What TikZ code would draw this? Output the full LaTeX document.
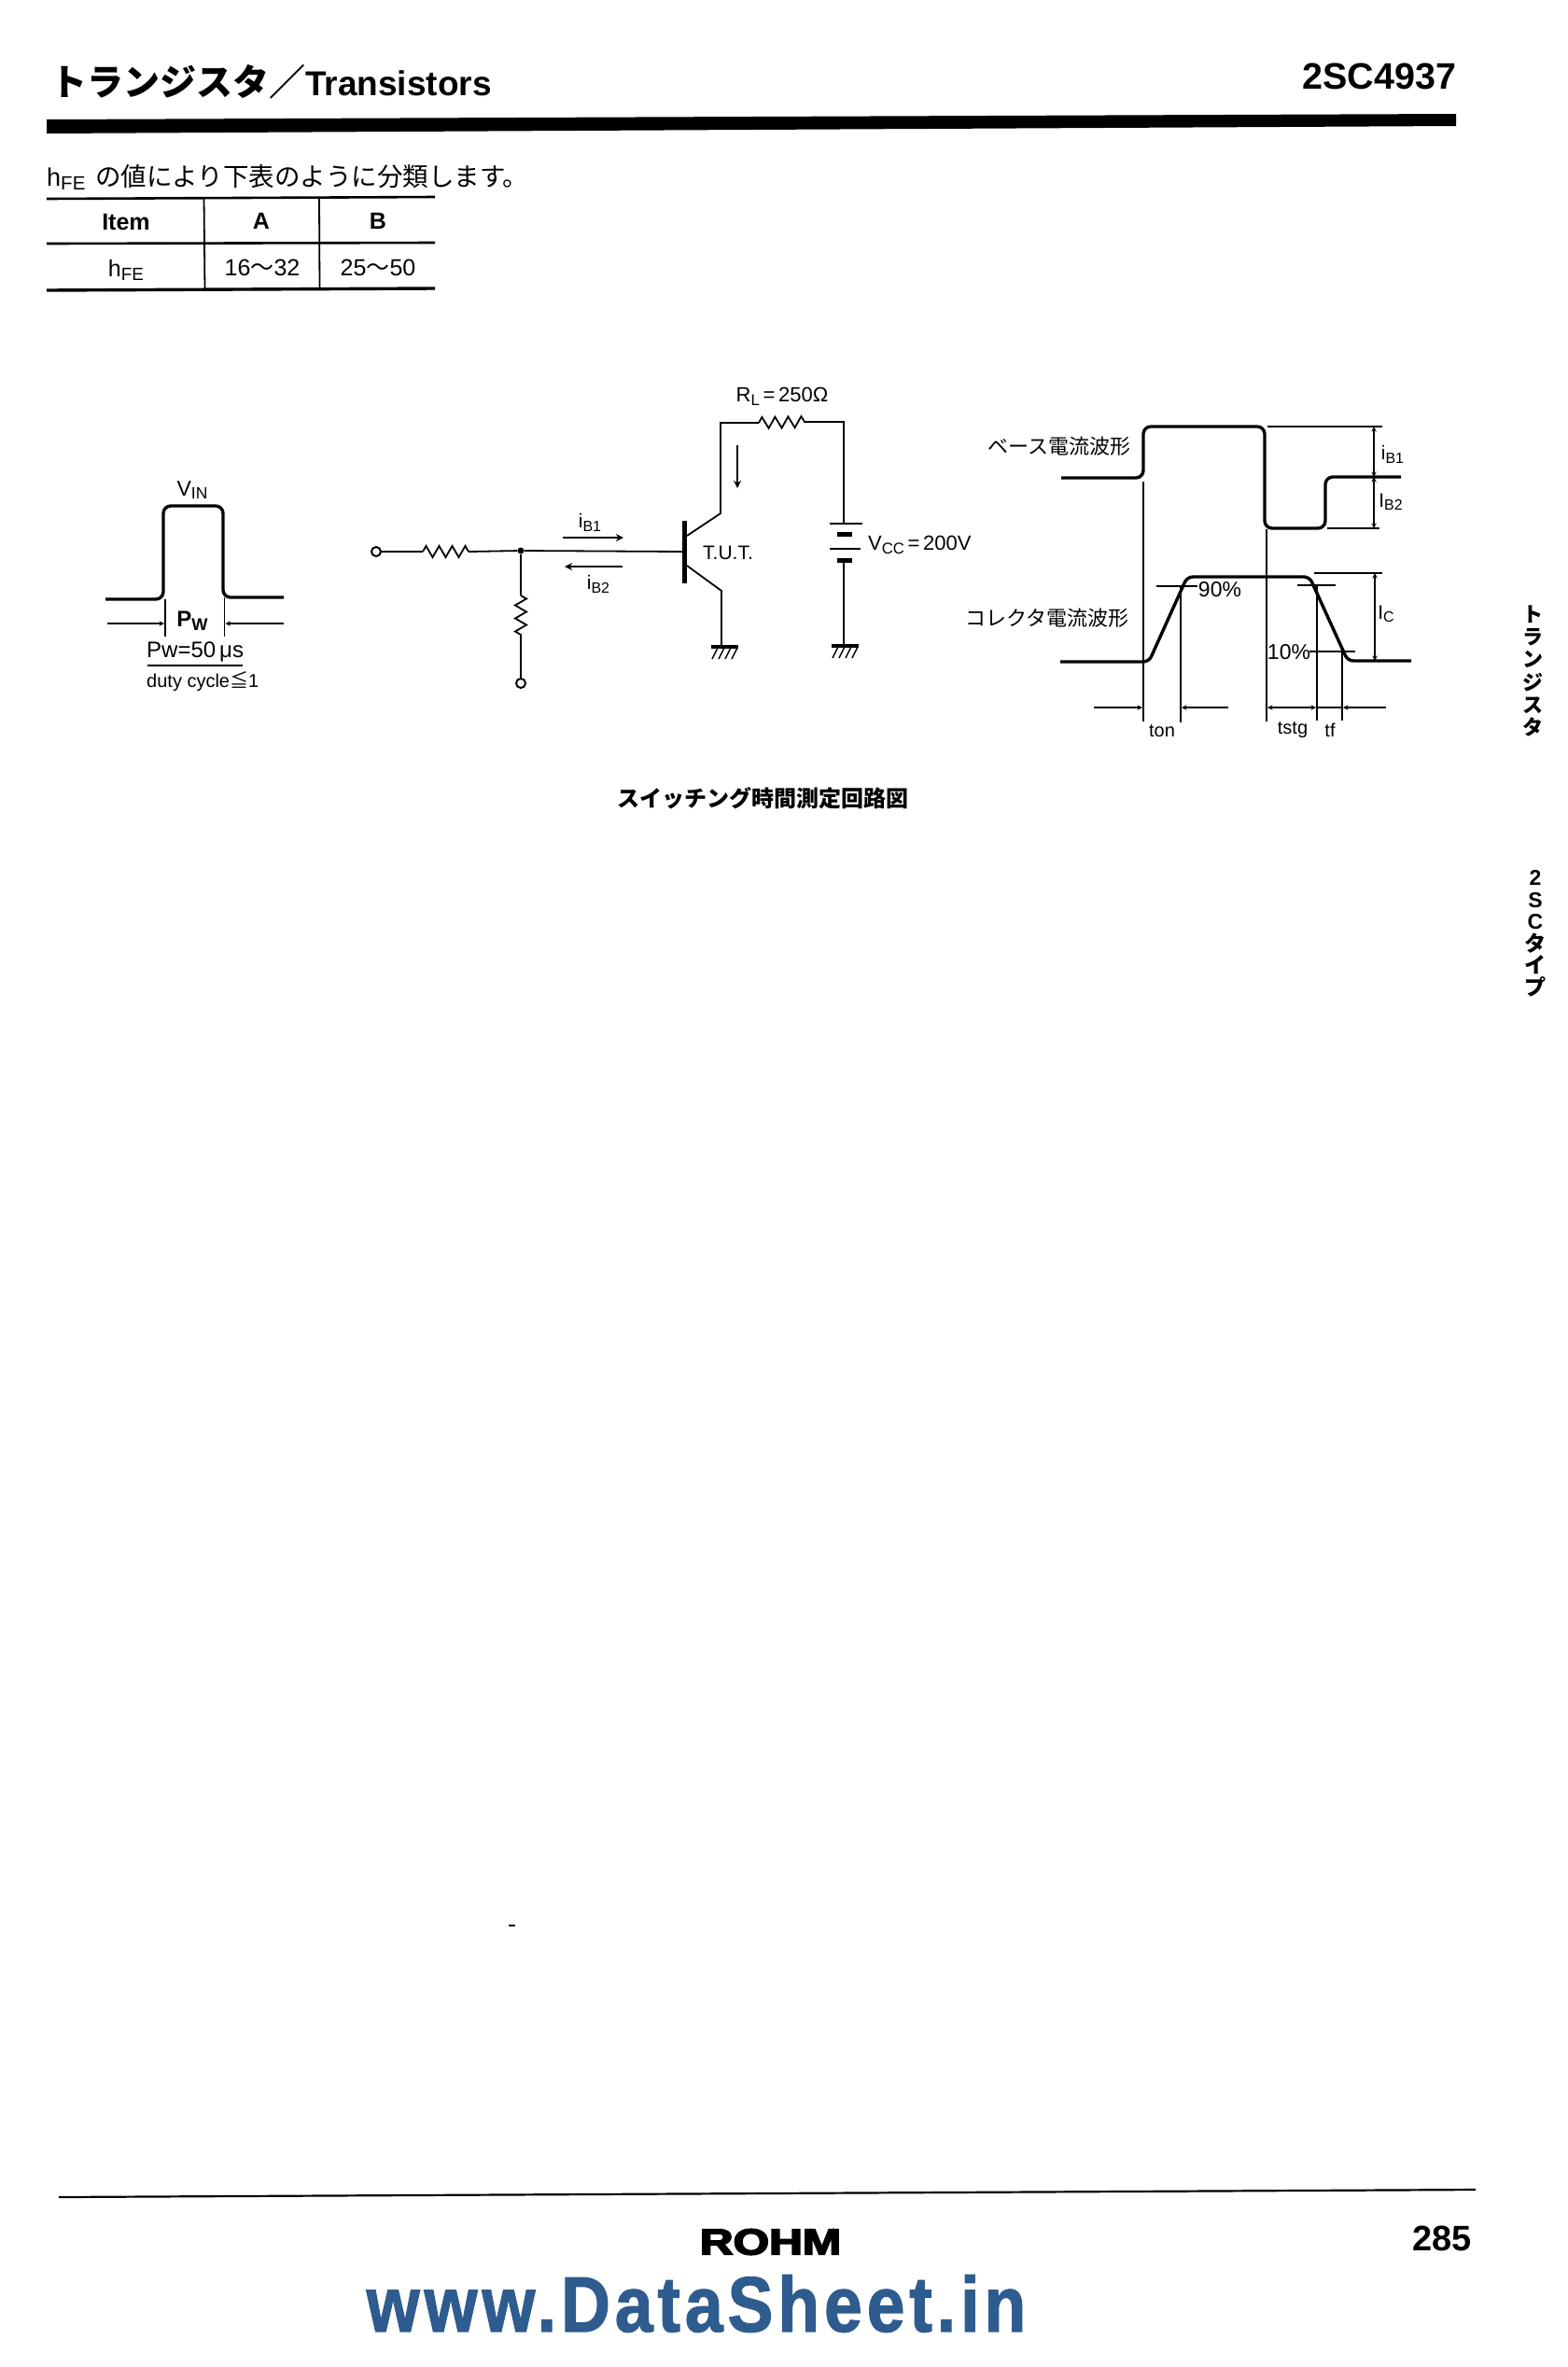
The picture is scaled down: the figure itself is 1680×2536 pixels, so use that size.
\documentclass[tikz,border=0pt]{standalone}
\usepackage{fontspec}
\usepackage{xcolor}
\usepackage{graphicx}
\setmainfont{Liberation Sans}
\newfontfamily\cjk{Noto Sans CJK JP}
\newfontfamily\logofont[FakeBold=4]{Liberation Sans Bold}
\newfontfamily\wmfont[LetterSpace=6, FakeStretch=0.87, FakeBold=1.5]{Liberation Sans Bold}
\usetikzlibrary{decorations.pathmorphing}
\definecolor{wmblue}{HTML}{2F5C8F}
\newcommand{\fs}[1]{\fontsize{#1}{#1}\selectfont}
\newcommand{\wave}{{\cjk ～}}
\newcommand{\lowtxt}[1]{\raisebox{-0.3ex}{\scalebox{0.76}{#1}}}
\tikzset{
  txt/.style={inner sep=0pt, font=\fs{21}},
  tbl/.style={inner sep=0pt, font=\fs{25}},
  jp/.style={inner sep=0pt, font=\fs{22}\cjk},
  wire/.style={line width=1.8pt},
  wave/.style={line width=3.4pt, rounded corners=8pt},
  dim/.style={line width=1.4pt},
  tblrule/.style={line width=2.6pt},
  resistor/.style={line width=1.8pt, decorate, decoration={zigzag, amplitude=6pt, segment length=14pt}},
  termnode/.style={circle, draw, line width=2pt, fill=white, minimum size=10pt, inner sep=0pt},
  dotnode/.style={circle, fill, minimum size=7pt, inner sep=0pt},
  plate/.style={line width=2.4pt},
  cell/.style={line width=5pt},
  gnd/.style={line width=3.4pt}
}
\begin{document}
\begin{tikzpicture}[x=1pt, y=-1pt, >=stealth]
\useasboundingbox (0,0) rectangle (1680,2536);
\node[inner sep=0pt, anchor=west, font=\fs{37}\bfseries] (title) at (54,88) {{\cjk\bfseries\fs{39}トランジスタ／}Transistors};
\node[inner sep=0pt, anchor=east, font=\fs{39.5}\bfseries] (part) at (1560.5,82) {2SC4937};
\fill (50,128) -- (1560,122) -- (1560,135) -- (50,143) -- cycle;
\node[inner sep=0pt, anchor=west, font=\fs{27}] (note) at (50,190) {h\lowtxt{FE}\,{\cjk\fs{27.5} の値により下表のように分類します。}};
\draw[tblrule] (50,213) -- (466,211);
\draw[tblrule] (50,261) -- (466,260);
\draw[tblrule, line width=3.4pt] (50,311) -- (466,309);
\draw[wire] (218.5,212) -- (219.5,310);
\draw[wire] (342,212) -- (342.5,310);
\node[tbl, font=\fs{25}\bfseries] (item) at (135,238) {Item};
\node[tbl, font=\fs{25}\bfseries] (colA) at (280,237) {A};
\node[tbl, font=\fs{25}\bfseries] (colB) at (405,237) {B};
\node[tbl] (hfe) at (135,289) {h\lowtxt{FE}};
\node[tbl] (valA) at (281,287) {16\wave32};
\node[tbl] (valB) at (405,287) {25\wave50};
% input pulse
\node[txt, font=\fs{23}] (vin) at (206,525) {V\lowtxt{IN}};
\draw[wave] (113,642) -- (175,642) -- (175,542) -- (239,542) -- (239,640) -- (304,640);
\draw[dim] (177,642) -- (177,682);
\draw[dim, line width=1.8pt] (240.5,640) -- (240.5,682);
\draw[dim, ->] (115,668) -- (176,668);
\draw[dim, ->] (304,668) -- (241.5,668);
\node[txt, font=\fs{24}\bfseries] (pw) at (206,665) {P\lowtxt{W}};
\node[txt, anchor=west, font=\fs{24}] (pwval) at (157,698) {Pw=50\,μs};
\draw[wire] (157.5,713) -- (260,713);
\node[txt, anchor=west, font=\fs{20}] (duty) at (157,730) {duty cycle{\cjk ≦}1};
% test circuit
\node[termnode] (inp) at (403,591) {};
\node[termnode] (low) at (558,732) {};
\node[dotnode] (jct) at (558,590) {};
\coordinate (r1a) at (453,591);
\coordinate (r1b) at (502,591);
\coordinate (r2a) at (558,638);
\coordinate (r2b) at (558,685);
\coordinate (base) at (733,591);
\coordinate (colb) at (736,574);
\coordinate (colt) at (772,550);
\coordinate (embot) at (773,633);
\coordinate (emb) at (736,606);
\coordinate (gnda) at (773,692);
\coordinate (rla) at (813,453);
\coordinate (rlb) at (862,452);
\coordinate (vcct) at (904,561);
\coordinate (vccb) at (904,600);
\coordinate (gndb) at (904,692);
\draw[wire] (inp) -- (r1a);
\draw[resistor] (r1a) -- (r1b);
\draw[wire] (r1b) -- (jct);
\draw[wire] (jct) -- (base);
\draw[wire] (jct) -- (r2a);
\draw[resistor] (r2a) -- (r2b);
\draw[wire] (r2b) -- (low);
\draw[line width=5pt] (733,558) -- (733,625);
\draw[wire] (colb) -- (colt) -- (772,453) -- (rla);
\draw[wire] (emb) -- (embot) -- (gnda);
\draw[resistor] (rla) -- (rlb);
\draw[wire] (rlb) -- (904,452) -- (vcct);
\draw[plate] (889,561) -- (924,561);
\draw[cell] (897,572) -- (913,572);
\draw[plate] (889,588) -- (922,588);
\draw[cell] (897,600) -- (913,600);
\draw[wire] (vccb) -- (gndb);
\draw[gnd] (762,693) -- (791,693);
\draw[gnd] (891,692) -- (920,692);
\foreach \x in {762,769,776,783}
  \draw[dim] (\x+7,694) -- (\x+1,706);
\foreach \x in {891,898,905,912}
  \draw[dim] (\x+7,693) -- (\x+1,705);
\node[txt, font=\fs{22}] (rl) at (838,425) {R\lowtxt{L}\,=\,250Ω};
\draw[wire, ->, line width=2.6pt] (790,477) -- (790,523);
\node[txt] (ib1) at (632,560) {i\lowtxt{B1}};
\draw[wire, ->, line width=2.6pt] (603,576) -- (668,576);
\draw[wire, ->, line width=2.6pt] (667,607) -- (605,607);
\node[txt] (ib2) at (641,626) {i\lowtxt{B2}};
\node[txt] (tut) at (780,592) {T.U.T.};
\node[txt, anchor=west, font=\fs{22}] (vcc) at (930,584) {V\lowtxt{CC}\,=\,200V};
% waveforms
\node[jp, anchor=east] (basew) at (1212,478) {ベース電流波形};
\node[jp, anchor=east] (collw) at (1210,662) {コレクタ電流波形};
\draw[wave] (1137,512) -- (1225,512) -- (1225,457) -- (1355,457) -- (1355,566) -- (1420,566) -- (1420,511) -- (1501,511);
\draw[wave, rounded corners=6pt] (1136,709) -- (1231,709) -- (1272,618) -- (1403,618) -- (1444,708) -- (1512,708);
\draw[dim, line width=1.8pt] (1358,457) -- (1481,457);
\draw[dim, line width=1.8pt] (1422,566) -- (1478,566);
\draw[dim, <->] (1472,457) -- (1472,511);
\draw[dim, <->] (1472,511) -- (1472,566);
\node[txt] (wib1) at (1492,487) {i\lowtxt{B1}};
\node[txt] (wib2) at (1490,538) {I\lowtxt{B2}};
\draw[dim] (1225,516) -- (1225,773);
\draw[wire, line width=2.6pt] (1265,627) -- (1265,774);
\draw[dim] (1357,567) -- (1357,773);
\draw[wire] (1411,627) -- (1411,772);
\draw[wire] (1438,698) -- (1438,772);
\draw[dim] (1239,628) -- (1283,628);
\node[txt, font=\fs{23}] (p90) at (1307,632) {90\%};
\draw[dim] (1390,627) -- (1431,627);
\draw[dim] (1403,698) -- (1452,698);
\node[txt, font=\fs{23}] (p10) at (1381,699) {10\%};
\draw[dim, line width=1.8pt] (1408,614) -- (1481,614);
\draw[dim, <->] (1473,614) -- (1473,708);
\node[txt] (wic) at (1485,658) {I\lowtxt{C}};
\draw[dim, ->] (1172,758) -- (1224,758);
\draw[dim, ->] (1316,758) -- (1266,758);
\draw[dim, <->] (1358,758) -- (1410,758);
\draw[dim] (1411,758) -- (1438,758);
\draw[dim, ->] (1485,758) -- (1439,758);
\node[txt, font=\fs{20}] (ton) at (1245,783) {ton};
\node[txt, font=\fs{20}] (tstg) at (1385,782) {tstg};
\node[txt, font=\fs{20}] (tf) at (1425,782) {tf};
\node[inner sep=0pt, font=\fs{24}\cjk\bfseries] (cap) at (817,855) {スイッチング時間測定回路図};
% side tabs
\node[inner sep=0pt, align=center, font=\fontsize{22}{24.3}\selectfont\cjk\bfseries] (side1) at (1642,719) {ト\\ラ\\ン\\ジ\\ス\\タ};
\node[inner sep=0pt, align=center, font=\fontsize{23}{23.5}\selectfont\bfseries] (side2) at (1645,1000) {2\\S\\C\\{\cjk タ}\\{\cjk イ}\\{\cjk プ}};
% footer
\fill (545,2062) rectangle (552,2064);
\draw[wire, line width=2.2pt] (63,2354) -- (1581,2346);
\node[inner sep=0pt, xscale=1.27, font=\fs{39}\logofont] (logo) at (825.5,2402) {ROHM};
\node[inner sep=0pt, anchor=east, font=\fs{38}\bfseries] (page) at (1577,2398) {285};
\node[inner sep=0pt, font=\fs{84}\wmfont, text=wmblue] (mark) at (746,2468) {www.DataSheet.in};
\end{tikzpicture}
\end{document}
